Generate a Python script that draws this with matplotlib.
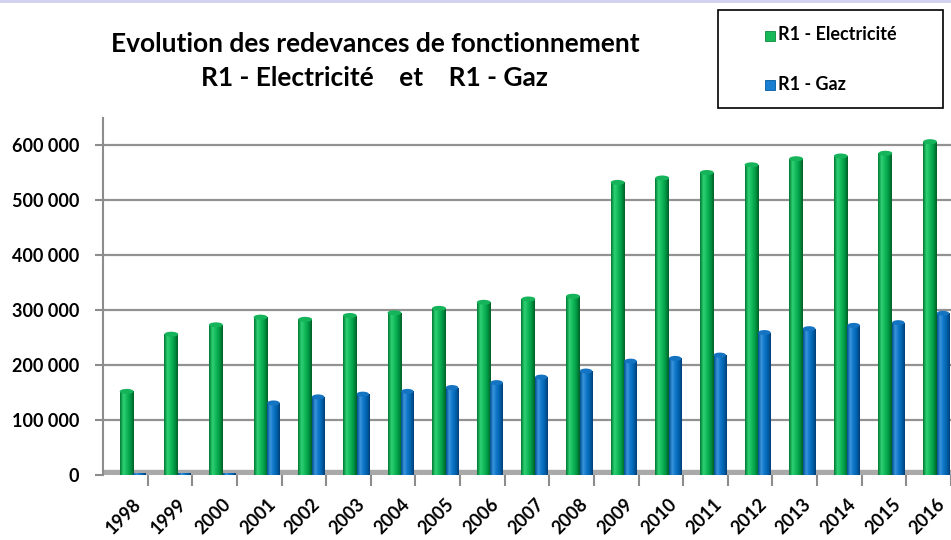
import numpy as np
import matplotlib.pyplot as plt
from matplotlib.colors import LinearSegmentedColormap
from matplotlib.patches import Rectangle, Ellipse
from matplotlib.lines import Line2D

years = [str(y) for y in range(1998, 2017)]
elec = [152000, 256000, 273000, 287000, 283000, 290000, 295000, 303000, 314000, 320000,
        325000, 532000, 540000, 550000, 564000, 575000, 580000, 585000, 606000]
gaz = [3000, 3000, 3000, 131000, 142000, 147000, 152000, 159000, 168000, 178000,
       189000, 207000, 212000, 218000, 259000, 266000, 272000, 277000, 294000]
yticks = [0, 100000, 200000, 300000, 400000, 500000, 600000]

plt.rcParams['font.family'] = ['Lato', 'DejaVu Sans']

green_cm = LinearSegmentedColormap.from_list("g", ["#007a32", "#2fd274", "#12b85a", "#009a45", "#005f27"])
blue_cm = LinearSegmentedColormap.from_list("b", ["#00508f", "#3b95dc", "#0f76c8", "#0063ad", "#003f75"])

fig = plt.figure(figsize=(9.51, 5.40), dpi=100)
ax = fig.add_axes([103 / 951, 65 / 540, 848 / 951, (475 - 117.5) / 540])

x = np.arange(len(years))
xmax = -0.5 + 848 / 45
ymax = 650000

# floor band and gridlines
ax.axhspan(0, 9000, color="#a9a9a9", zorder=1)
for t in yticks[1:]:
    ax.axhline(t, color="#929292", lw=1.6, zorder=1)

grad = np.linspace(0, 1, 64).reshape(1, -1)
px_y = ymax / 357.5  # data units per pixel, vertically


def cyl_bar(xc, h, w, cmap, capcol):
    left = xc - w / 2
    im = ax.imshow(grad, cmap=cmap, aspect="auto", extent=(left, left + w, 0, h), zorder=3)
    r = Rectangle((left, 0), w, h, transform=ax.transData, facecolor="none", edgecolor="none")
    ax.add_patch(r)
    im.set_clip_path(r)
    if h > 20000:
        ax.add_patch(Ellipse((xc, h), w, 5 * px_y, facecolor=capcol, edgecolor="none", zorder=4))


for i in range(len(years)):
    cyl_bar(x[i] + 0.03, elec[i], 0.31, green_cm, "#16b45a")
    cyl_bar(x[i] + 0.32, gaz[i], 0.28, blue_cm, "#1474c2")

ax.set_xlim(-0.5, xmax)
ax.set_ylim(0, ymax)

for s in ["top", "right", "bottom"]:
    ax.spines[s].set_visible(False)
ax.spines["left"].set_color("#8c8c8c")
ax.spines["left"].set_linewidth(1.5)

ax.set_yticks(yticks)
ax.set_yticklabels([f"{v:,}".replace(",", " ") for v in yticks], fontsize=13, fontweight="bold")
ax.tick_params(axis="y", length=6, color="#8c8c8c", width=1.5, pad=11)

ax.set_xticks(x + 0.17)
ax.set_xticklabels(years, rotation=45, ha="right", rotation_mode="anchor",
                   fontsize=13, fontweight="bold")
ax.tick_params(axis="x", length=0, pad=15)
ax.set_xticks(np.arange(0.5, len(years) - 0.4, 1), minor=True)
ax.tick_params(axis="x", which="minor", length=8, color="#8c8c8c", width=1.5)

# titles
fig.text(375 / 951, 1 - 44 / 540, "Evolution des redevances de fonctionnement",
         ha="center", va="center", fontsize=19, fontweight="bold")
fig.text(374 / 951, 1 - 78 / 540, "R1 - Electricité    et    R1 - Gaz",
         ha="center", va="center", fontsize=19, fontweight="bold")

# legend box
fig.patches.append(Rectangle((718 / 951, 1 - 108 / 540), 225 / 951, 98 / 540,
                             transform=fig.transFigure, facecolor="white",
                             edgecolor="black", lw=1.2))
fig.patches.append(Rectangle((765 / 951, 1 - 41 / 540), 10 / 951, 10 / 540,
                             transform=fig.transFigure, facecolor="#17b857",
                             edgecolor="#0a8a3c", lw=0.6))
fig.patches.append(Rectangle((765 / 951, 1 - 90 / 540), 10 / 951, 10 / 540,
                             transform=fig.transFigure, facecolor="#1a7fd0",
                             edgecolor="#005aa0", lw=0.6))
fig.text(778 / 951, 1 - 35 / 540, "R1 - Electricité", ha="left", va="center",
         fontsize=13, fontweight="bold")
fig.text(778 / 951, 1 - 84 / 540, "R1 - Gaz", ha="left", va="center",
         fontsize=13, fontweight="bold")

fig.lines.append(Line2D([0, 1], [0.998, 0.998], transform=fig.transFigure,
                        color="#cfcfee", lw=2))

fig.savefig("out.png", dpi=100)
plt.close("all")
